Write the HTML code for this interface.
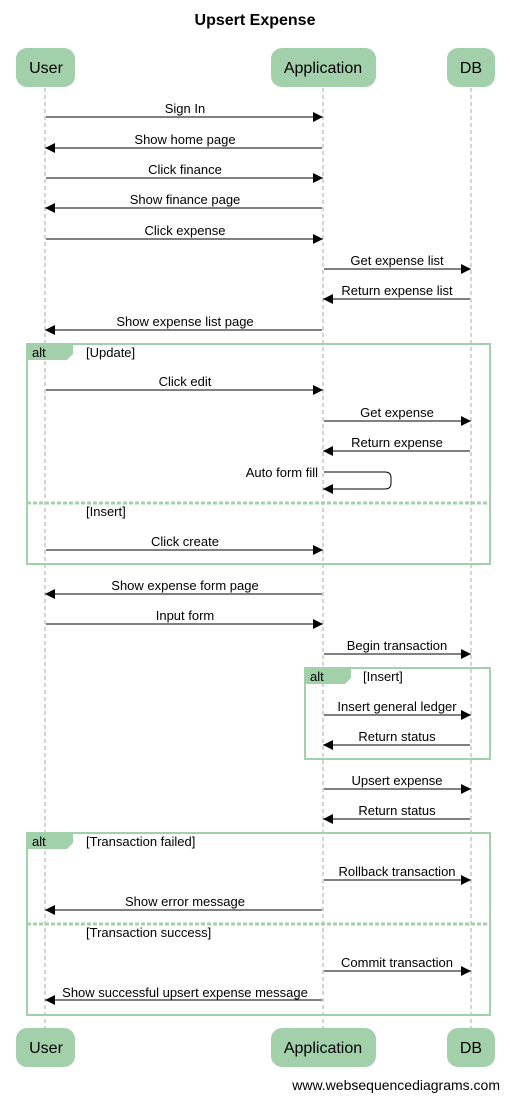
<!DOCTYPE html>
<html><head><meta charset="utf-8"><style>
html,body{margin:0;padding:0;background:#fff;width:510px;height:1102px;overflow:hidden}
svg{display:block}
text{font-family:"Liberation Sans",Arial,sans-serif;fill:#000}
.m{font-size:13px;text-anchor:middle}
.l{stroke:#000;stroke-width:1;fill:none}
.life{stroke:#aaa;stroke-width:1;stroke-dasharray:4,3}
.p{fill:#a2d0aa}
.pt{font-size:16px;text-anchor:middle}
.frame{fill:none;stroke:#a2d0aa;stroke-width:2}
.div{stroke:#a2d0aa;stroke-width:3;stroke-dasharray:4,2}
.c{font-size:13px}
</style></head><body>
<svg width="510" height="1102" viewBox="0 0 510 1102" xmlns="http://www.w3.org/2000/svg">
<defs>
<marker id="a" markerUnits="userSpaceOnUse" markerWidth="10" markerHeight="10" refX="10" refY="5" orient="auto"><path d="M0,0 L10,5 L0,10 z" fill="#000"/></marker>
</defs>
<text x="255" y="25" style="font-size:16px;font-weight:bold;text-anchor:middle">Upsert Expense</text>

<line class="life" x1="45" y1="88" x2="45" y2="1028"/>
<line class="life" x1="323" y1="88" x2="323" y2="1028"/>
<line class="life" x1="471" y1="88" x2="471" y2="1028"/>

<rect class="p" x="16" y="48" width="59" height="39" rx="11"/>
<rect class="p" x="271" y="48" width="105" height="39" rx="11"/>
<rect class="p" x="447" y="48" width="48" height="39" rx="11"/>
<text class="pt" x="46" y="73">User</text>
<text class="pt" x="323" y="73">Application</text>
<text class="pt" x="471" y="73">DB</text>

<rect class="p" x="16" y="1028" width="59" height="39" rx="11"/>
<rect class="p" x="271" y="1028" width="105" height="39" rx="11"/>
<rect class="p" x="447" y="1028" width="48" height="39" rx="11"/>
<text class="pt" x="46" y="1053">User</text>
<text class="pt" x="323" y="1053">Application</text>
<text class="pt" x="471" y="1053">DB</text>

<g marker-end="url(#a)">
<line class="l" x1="46" y1="117" x2="323" y2="117"/>
<line class="l" x1="322" y1="148" x2="45" y2="148"/>
<line class="l" x1="46" y1="178" x2="323" y2="178"/>
<line class="l" x1="322" y1="208" x2="45" y2="208"/>
<line class="l" x1="46" y1="239" x2="323" y2="239"/>
<line class="l" x1="324" y1="269" x2="471" y2="269"/>
<line class="l" x1="470" y1="299" x2="323" y2="299"/>
<line class="l" x1="322" y1="330" x2="45" y2="330"/>
<line class="l" x1="46" y1="390" x2="323" y2="390"/>
<line class="l" x1="324" y1="421" x2="471" y2="421"/>
<line class="l" x1="470" y1="451" x2="323" y2="451"/>
<line class="l" x1="46" y1="550" x2="323" y2="550"/>
<line class="l" x1="322" y1="594" x2="45" y2="594"/>
<line class="l" x1="46" y1="624" x2="323" y2="624"/>
<line class="l" x1="324" y1="654" x2="471" y2="654"/>
<line class="l" x1="324" y1="715" x2="471" y2="715"/>
<line class="l" x1="470" y1="745" x2="323" y2="745"/>
<line class="l" x1="324" y1="789" x2="471" y2="789"/>
<line class="l" x1="470" y1="819" x2="323" y2="819"/>
<line class="l" x1="324" y1="880" x2="471" y2="880"/>
<line class="l" x1="322" y1="910" x2="45" y2="910"/>
<line class="l" x1="324" y1="971" x2="471" y2="971"/>
<line class="l" x1="322" y1="1000" x2="45" y2="1000"/>
<path class="l" d="M324,472 H385 Q391,472 391,478 V483 Q391,489 385,489 H323"/>
</g>

<text class="m" x="185" y="113">Sign In</text>
<text class="m" x="185" y="144">Show home page</text>
<text class="m" x="185" y="174">Click finance</text>
<text class="m" x="185" y="204">Show finance page</text>
<text class="m" x="185" y="235">Click expense</text>
<text class="m" x="397" y="265">Get expense list</text>
<text class="m" x="397" y="295">Return expense list</text>
<text class="m" x="185" y="326">Show expense list page</text>
<text class="m" x="185" y="386">Click edit</text>
<text class="m" x="397" y="417">Get expense</text>
<text class="m" x="397" y="447">Return expense</text>
<text class="c" x="318" y="477" style="text-anchor:end">Auto form fill</text>
<text class="m" x="185" y="546">Click create</text>
<text class="m" x="185" y="590">Show expense form page</text>
<text class="m" x="185" y="620">Input form</text>
<text class="m" x="397" y="650">Begin transaction</text>
<text class="m" x="397" y="711">Insert general ledger</text>
<text class="m" x="397" y="741">Return status</text>
<text class="m" x="397" y="785">Upsert expense</text>
<text class="m" x="397" y="815">Return status</text>
<text class="m" x="397" y="876">Rollback transaction</text>
<text class="m" x="185" y="906">Show error message</text>
<text class="m" x="397" y="967">Commit transaction</text>
<text class="m" x="185" y="997">Show successful upsert expense message</text>

<rect class="frame" x="27" y="344" width="463" height="220"/>
<path class="p" d="M27,344 H73 V354 L67,360 H27 Z"/>
<text class="c" x="32" y="357">alt</text>
<text class="c" x="86" y="357">[Update]</text>
<line class="div" x1="27" y1="503" x2="490" y2="503"/>
<text class="c" x="86" y="516">[Insert]</text>

<rect class="frame" x="305" y="668" width="185" height="91"/>
<path class="p" d="M305,668 H351 V678 L345,684 H305 Z"/>
<text class="c" x="310" y="681">alt</text>
<text class="c" x="363" y="681">[Insert]</text>

<rect class="frame" x="27" y="833" width="463" height="182"/>
<path class="p" d="M27,833 H73 V843 L67,849 H27 Z"/>
<text class="c" x="32" y="846">alt</text>
<text class="c" x="86" y="846">[Transaction failed]</text>
<line class="div" x1="27" y1="924" x2="490" y2="924"/>
<text class="c" x="86" y="937">[Transaction success]</text>

<text x="500" y="1090" style="font-size:14px;text-anchor:end">www.websequencediagrams.com</text>
</svg>
</body></html>
